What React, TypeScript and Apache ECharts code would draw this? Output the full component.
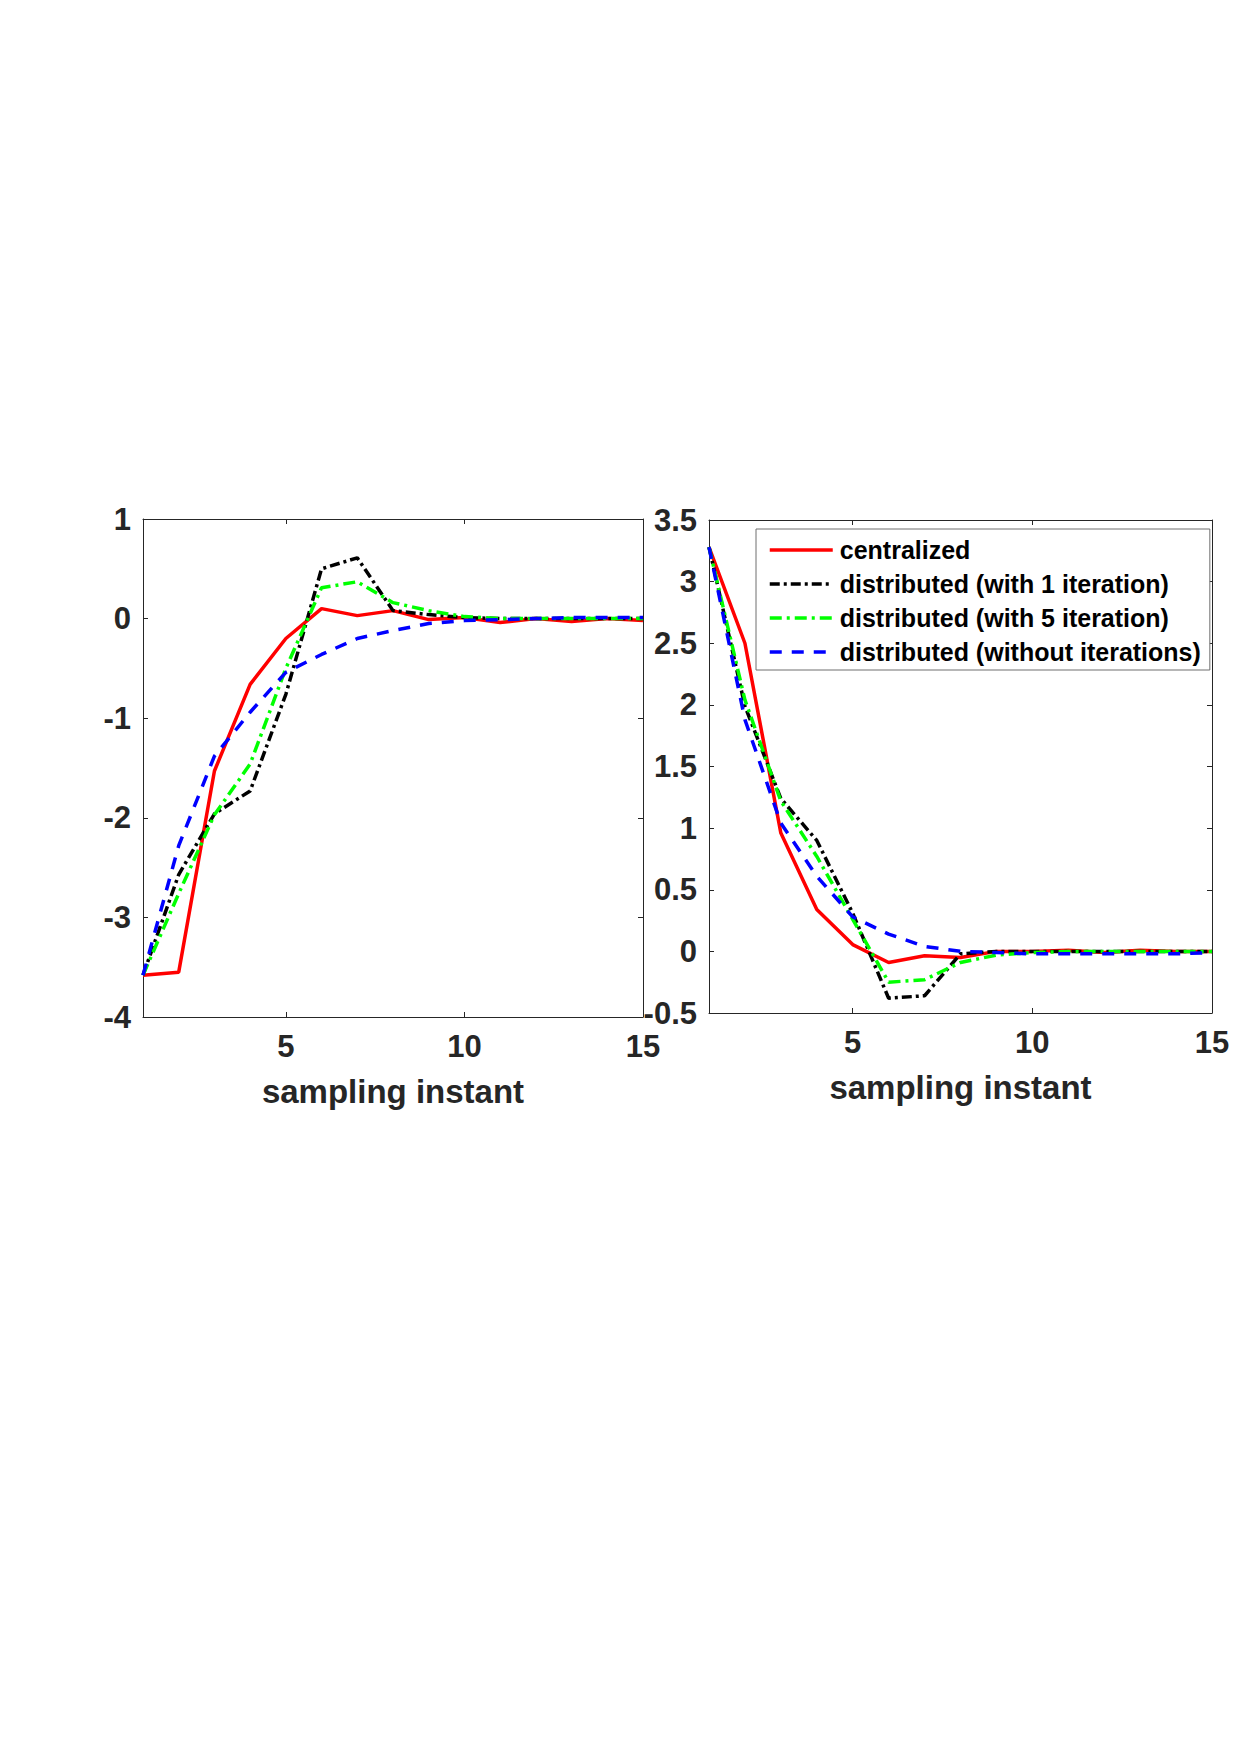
import React, { useEffect, useRef } from "react";
import * as echarts from "echarts";

// Sampling instants shared by both panels
const steps = [1, 2, 3, 4, 5, 6, 7, 8, 9, 10, 11, 12, 13, 14, 15];

// Left panel responses
const centralizedL = [-3.58, -3.55, -1.53, -0.66, -0.2, 0.1, 0.03, 0.08, -0.01, 0.01, -0.04, 0.0, -0.03, 0.0, -0.02];
const oneIterL = [-3.58, -2.57, -1.96, -1.73, -0.76, 0.5, 0.61, 0.08, 0.04, 0.01, 0.0, 0.0, 0.0, 0.0, 0.0];
const fiveIterL = [-3.58, -2.76, -1.97, -1.46, -0.5, 0.31, 0.37, 0.16, 0.08, 0.02, 0.0, 0.0, 0.0, 0.0, 0.0];
const noIterL = [-3.58, -2.28, -1.38, -0.94, -0.54, -0.36, -0.2, -0.12, -0.05, -0.02, -0.01, 0.0, 0.01, 0.01, 0.01];

// Right panel responses
const centralizedR = [3.28, 2.5, 0.96, 0.34, 0.055, -0.09, -0.035, -0.05, 0.0, 0.0, 0.01, -0.01, 0.01, 0.0, 0.0];
const oneIterR = [3.28, 1.99, 1.24, 0.9, 0.31, -0.38, -0.36, -0.02, 0.0, 0.0, 0.0, 0.0, 0.0, 0.0, 0.0];
const fiveIterR = [3.28, 2.04, 1.22, 0.77, 0.26, -0.25, -0.23, -0.09, -0.03, -0.01, 0.0, 0.0, 0.0, 0.0, 0.0];
const noIterR = [3.28, 1.88, 1.04, 0.61, 0.28, 0.14, 0.04, 0.0, -0.01, -0.02, -0.02, -0.02, -0.02, -0.02, -0.01];

// Axis ranges and tick values
const xTicks = [5, 10, 15];
const leftYRange = { min: -4, max: 1, interval: 1 };
const rightYRange = { min: -0.5, max: 3.5, interval: 0.5 };

const seriesNames = [
  "centralized",
  "distributed (with 1 iteration)",
  "distributed (with 5 iteration)",
  "distributed (without iterations)",
];

const FONT = '"Liberation Sans", Arial, Helvetica, sans-serif';
const AXIS_COLOR = "#262626";

const lineStyles = [
  { color: "#ff0000", width: 3.5, type: "solid" },
  { color: "#000000", width: 3.5, type: [10, 4, 3, 4] },
  { color: "#00ff00", width: 3.5, type: [12, 5, 3, 5] },
  { color: "#0000ff", width: 3.5, type: [12, 10] },
];

function toPoints(values: number[]) {
  return steps.map((s, i) => [s, values[i]]);
}

function mainX(gridIndex: number) {
  return {
    type: "value",
    gridIndex,
    min: 1,
    max: 15,
    position: "bottom",
    name: "sampling instant",
    nameLocation: "middle",
    nameGap: 58,
    nameTextStyle: { fontFamily: FONT, fontWeight: "bold", fontSize: 33, color: AXIS_COLOR },
    axisLine: { show: true, onZero: false, lineStyle: { color: AXIS_COLOR, width: 1 } },
    axisTick: { show: true, inside: true, length: 5, customValues: xTicks, lineStyle: { color: AXIS_COLOR } },
    axisLabel: {
      show: true,
      customValues: xTicks,
      margin: 14,
      fontFamily: FONT,
      fontWeight: "bold",
      fontSize: 31,
      color: AXIS_COLOR,
    },
    splitLine: { show: false },
  };
}

function topX(gridIndex: number) {
  return {
    type: "value",
    gridIndex,
    min: 1,
    max: 15,
    position: "top",
    axisLine: { show: true, onZero: false, lineStyle: { color: AXIS_COLOR, width: 1 } },
    axisTick: { show: true, inside: true, length: 5, customValues: xTicks, lineStyle: { color: AXIS_COLOR } },
    axisLabel: { show: false },
    splitLine: { show: false },
  };
}

function mainY(gridIndex: number, range: { min: number; max: number; interval: number }) {
  return {
    type: "value",
    gridIndex,
    ...range,
    position: "left",
    axisLine: { show: true, onZero: false, lineStyle: { color: AXIS_COLOR, width: 1 } },
    axisTick: { show: true, inside: true, length: 5, lineStyle: { color: AXIS_COLOR } },
    axisLabel: {
      show: true,
      margin: 12,
      fontFamily: FONT,
      fontWeight: "bold",
      fontSize: 31,
      color: AXIS_COLOR,
    },
    splitLine: { show: false },
  };
}

function rightY(gridIndex: number, range: { min: number; max: number; interval: number }) {
  return {
    type: "value",
    gridIndex,
    ...range,
    position: "right",
    axisLine: { show: true, onZero: false, lineStyle: { color: AXIS_COLOR, width: 1 } },
    axisTick: { show: true, inside: true, length: 5, lineStyle: { color: AXIS_COLOR } },
    axisLabel: { show: false },
    splitLine: { show: false },
  };
}

export default function App() {
  const ref = useRef<HTMLDivElement>(null);

  useEffect(() => {
    document.body.style.margin = "0";
    if (!ref.current) return;
    const chart = echarts.init(ref.current, null, { renderer: "svg" });

    const leftSets = [centralizedL, oneIterL, fiveIterL, noIterL];
    const rightSets = [centralizedR, oneIterR, fiveIterR, noIterR];

    const series: any[] = [];
    leftSets.forEach((values, k) => {
      series.push({
        type: "line",
        name: seriesNames[k],
        xAxisIndex: 0,
        yAxisIndex: 0,
        data: toPoints(values),
        symbol: "none",
        lineStyle: lineStyles[k],
        itemStyle: { color: lineStyles[k].color },
      });
    });
    rightSets.forEach((values, k) => {
      series.push({
        type: "line",
        name: seriesNames[k],
        xAxisIndex: 2,
        yAxisIndex: 2,
        data: toPoints(values),
        symbol: "none",
        lineStyle: lineStyles[k],
        itemStyle: { color: lineStyles[k].color },
      });
    });

    chart.setOption({
      animation: false,
      backgroundColor: "#ffffff",
      grid: [
        { left: 143, top: 519, width: 500, height: 498, containLabel: false },
        { left: 709, top: 520, width: 503, height: 493, containLabel: false },
      ],
      xAxis: [mainX(0), topX(0), mainX(1), topX(1)],
      yAxis: [mainY(0, leftYRange), rightY(0, leftYRange), mainY(1, rightYRange), rightY(1, rightYRange)],
      legend: {
        show: true,
        data: seriesNames,
        orient: "vertical",
        left: 756,
        top: 529,
        padding: [8, 9, 5, 12],
        itemGap: 8,
        itemWidth: 63,
        itemHeight: 14,
        backgroundColor: "#ffffff",
        borderColor: "#6e6e6e",
        borderWidth: 1,
        borderRadius: 0,
        selectedMode: false,
        itemStyle: { opacity: 0, borderWidth: 0 },
        lineStyle: { width: 3.5 },
        textStyle: {
          fontFamily: FONT,
          fontWeight: "bold",
          fontSize: 25,
          lineHeight: 26,
          color: "#000000",
          padding: [0, 0, 0, 2],
        },
      },
      series,
    });

    return () => {
      chart.dispose();
    };
  }, []);

  return <div ref={ref} style={{ width: 1240, height: 1755 }} />;
}
